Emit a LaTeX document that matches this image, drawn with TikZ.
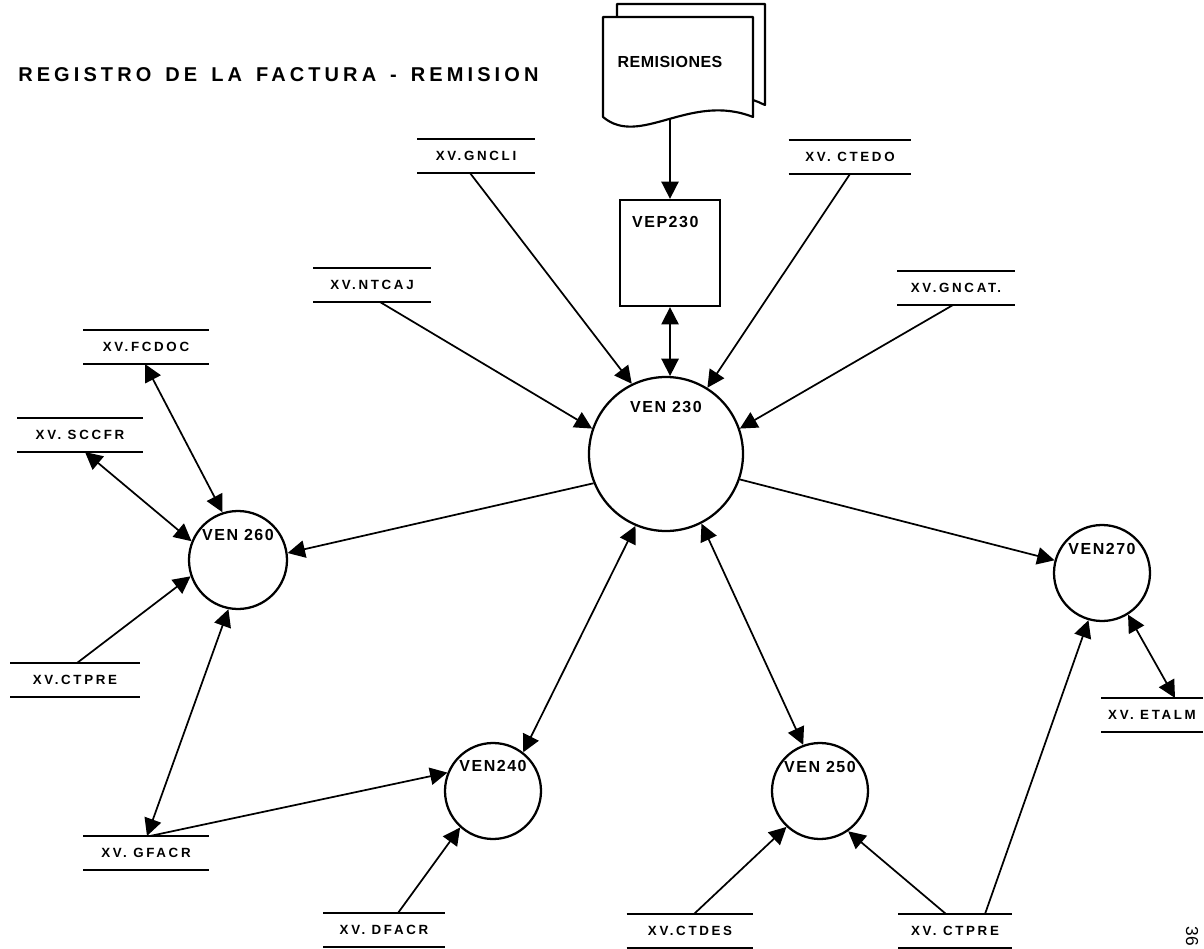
\documentclass[tikz,border=0pt]{standalone}
\usepackage{fontspec}
\setmainfont{Liberation Sans}
\newfontfamily\slab{Liberation Sans}[LetterSpace=20]
\newfontfamily\plab{Liberation Sans}[LetterSpace=9.5]
\newfontfamily\tlab{Liberation Sans}[LetterSpace=20.5, WordSpace=1.45]
\newfontfamily\rlab{Liberation Sans}[LetterSpace=3]
\usetikzlibrary{arrows.meta}
\tikzset{
  conn/.style={line width=1.3pt},
  doc/.style={line width=1.6pt, line join=round},
  storeline/.style={draw, line width=2pt},
  store/.style={font=\slab\bfseries\fontsize{10}{11}\selectfont,
    minimum width=#1, minimum height=25.5pt, inner sep=0pt, outer sep=0pt,
    append after command={(\tikzlastnode.north west) edge[storeline] (\tikzlastnode.north east)
      (\tikzlastnode.south west) edge[storeline] (\tikzlastnode.south east)}},
  proc/.style={circle, draw, line width=1.7pt, minimum size=#1, inner sep=0pt},
  plabel/.style={font=\plab\bfseries\fontsize{12}{13}\selectfont, inner sep=0pt, anchor=base},
  vepbox/.style={draw, line width=1.7pt, minimum width=75pt, minimum height=79.5pt, inner sep=0pt},
  tfont/.style={font=\tlab\bfseries\fontsize{15}{17}\selectfont, inner sep=0pt},
  rfont/.style={font=\rlab\bfseries\fontsize{12}{13}\selectfont, inner sep=0pt},
}
\begin{document}
\begin{tikzpicture}[x=0.75pt,y=-0.75pt,>={Triangle[length=13pt,width=13pt]}]
\useasboundingbox (0,0) rectangle (1204,949);

% title
\node[tfont, anchor=west] (title) at (18,75) {REGISTRO DE LA FACTURA - REMISION};

% document REMISIONES
\draw[doc] (617,17) -- (617,4) -- (765,4) -- (765,105) .. controls (760,103) and (757,101) .. (753,100);
\draw[doc] (603,17) -- (753,17) -- (753,117) .. controls (690,92) and (640,148) .. (603,117) -- cycle;
\node[rfont] (rem) at (670,62) {REMISIONES};
\coordinate (remb) at (670,119);

% VEP230
\node[vepbox] (vep) at (670,253) {};
\node[plabel, anchor=base west] (vept) at ([xshift=9.75pt, yshift=-21.75pt]vep.north west) {VEP230};

% stores
\node[store=88.5pt] (gncli) at (476,156) {XV.GNCLI};
\node[store=92pt] (ctedo) at (850,157) {XV. CTEDO};
\node[store=88.5pt] (ntcaj) at (372,285) {XV.NTCAJ};
\node[store=88pt] (gncat) at (956,288) {XV.GNCAT.};
\node[store=94.5pt] (fcdoc) at (146,347) {XV.FCDOC};
\node[store=94.5pt] (sccfr) at (80,435) {XV. SCCFR};
\node[store=97pt] (ctprel) at (75,680) {XV.CTPRE};
\node[store=94pt] (gfacr) at (146,853) {XV. GFACR};
\node[store=91.5pt] (dfacr) at (384,930) {XV. DFACR};
\node[store=95pt] (ctdes) at (690,931) {XV.CTDES};
\node[store=85pt] (ctpreb) at (955,931) {XV. CTPRE};
\node[store=76pt] (etalm) at (1152,715) {XV. ETALM};

% processes
\node[proc=115.5pt] (v230) at (666,454) {};
\node[proc=73.5pt] (v260) at (238,560) {};
\node[proc=72pt] (v270) at (1102,573) {};
\node[proc=72pt] (v240) at (493,791) {};
\node[proc=72pt] (v250) at (820,791) {};
\node[plabel] (l230) at ([yshift=-27.75pt]v230.north) {VEN 230};
\node[plabel] (l260) at ([yshift=-23.25pt]v260.north) {VEN 260};
\node[plabel] (l270) at ([yshift=-23.25pt]v270.north) {VEN270};
\node[plabel] (l240) at ([yshift=-22.5pt]v240.north) {VEN240};
\node[plabel] (l250) at ([yshift=-23.25pt]v250.north) {VEN 250};

% connectors
\draw[conn,->] (remb) -- (vep.north);
\draw[conn,<->] (vep.south) -- (v230.87);
\draw[conn,->] ([xshift=-4.5pt]gncli.south) -- (v230.116);
\draw[conn,->] ([xshift=6pt]ntcaj.south) -- (v230.161);
\draw[conn,->] (ctedo.south) -- (v230.58);
\draw[conn,->] ([xshift=-2.25pt]gncat.south) -- (v230.19);
\draw[conn,->] (v230.202) -- (v260.8);
\draw[conn,->] (v230.341) -- (v270.165);
\draw[conn,<->] (v230.247) -- (v240.52);
\draw[conn,<->] (v230.297) -- (v250.110);
\draw[conn,<->] ([xshift=-0.75pt]fcdoc.south) -- (v260.108);
\draw[conn,<->] ([xshift=3.75pt]sccfr.south) -- (v260.158);
\draw[conn,->] ([xshift=1.5pt]ctprel.north) -- (v260.199);
\draw[conn,<->] ([xshift=0.75pt]gfacr.north) -- (v260.259);
\draw[conn,->] ([xshift=3pt]gfacr.north) -- (v240.158);
\draw[conn,->] ([xshift=10.5pt]dfacr.north) -- (v240.228);
\draw[conn,->] ([xshift=3pt]ctdes.north) -- (v250.227);
\draw[conn,->] ([xshift=-6.75pt]ctpreb.north) -- (v250.305);
\draw[conn,->] ([xshift=22.5pt]ctpreb.north) -- (v270.254);
\draw[conn,<->] (v270.302) -- ([xshift=17.25pt]etalm.north);

% page number
\node[font=\fontsize{13}{13}\selectfont, rotate=-90] (pg) at (1192,936) {36};
\end{tikzpicture}
\end{document}
